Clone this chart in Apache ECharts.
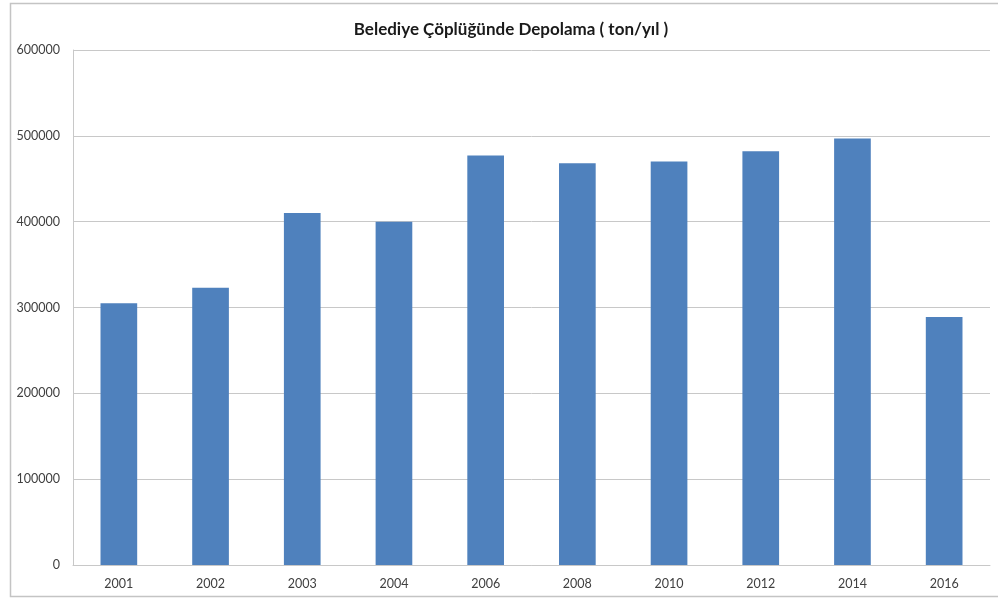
<!DOCTYPE html>
<html>
<head>
<meta charset="utf-8">
<script src="https://cdn.jsdelivr.net/npm/echarts@6/dist/echarts.min.js"></script>
<style>
  html, body { margin: 0; padding: 0; background: #ffffff; }
  #chart { width: 998px; height: 600px; }
</style>
</head>
<body>
<div id="chart"></div>
<script>
// Yıllara göre belediye çöplüğünde depolanan atık miktarı (ton/yıl)
const years = ['2001', '2002', '2003', '2004', '2006', '2008', '2010', '2012', '2014', '2016'];
const tonnage = [305000, 323000, 410000, 400000, 477000, 468000, 470000, 482000, 497000, 289000];
const yTicks = [0, 100000, 200000, 300000, 400000, 500000, 600000];

const chart = echarts.init(document.getElementById('chart'), null, { renderer: 'canvas' });

chart.setOption({
  animation: false,
  backgroundColor: '#ffffff',
  title: {
    text: 'Belediye Çöplüğünde Depolama ( ton/yıl )',
    left: 506,
    top: 16,
    textAlign: 'center',
    textStyle: {
      fontFamily: 'Lato',
      fontSize: 17,
      fontWeight: 'bold',
      color: '#1a1a1a'
    }
  },
  graphic: [{
    type: 'rect',
    shape: { x: 10.5, y: 3.5, width: 995, height: 593 },
    style: { fill: 'none', stroke: '#c4c4c4', lineWidth: 1.5 },
    silent: true,
    z: -1
  }],
  grid: {
    left: 73,
    right: 8,
    top: 50,
    bottom: 35,
    containLabel: false
  },
  xAxis: {
    type: 'category',
    data: years,
    axisLine: { show: true, lineStyle: { color: '#c8c8c8', width: 1 } },
    axisTick: { show: false },
    axisLabel: {
      margin: 12,
      fontFamily: 'Lato',
      fontSize: 12.5,
      color: '#404040'
    }
  },
  yAxis: {
    type: 'value',
    min: yTicks[0],
    max: yTicks[yTicks.length - 1],
    interval: 100000,
    axisLine: { show: true, lineStyle: { color: '#c8c8c8', width: 1 } },
    axisTick: { show: false },
    axisLabel: {
      margin: 13,
      fontFamily: 'Lato',
      fontSize: 12.5,
      color: '#404040',
      formatter: (v) => String(v)
    },
    splitLine: { show: true, lineStyle: { color: '#c8c8c8', width: 1 } }
  },
  series: [{
    type: 'bar',
    data: tonnage,
    barCategoryGap: '60%',
    itemStyle: { color: '#4f81bd' }
  }]
});
</script>
</body>
</html>
